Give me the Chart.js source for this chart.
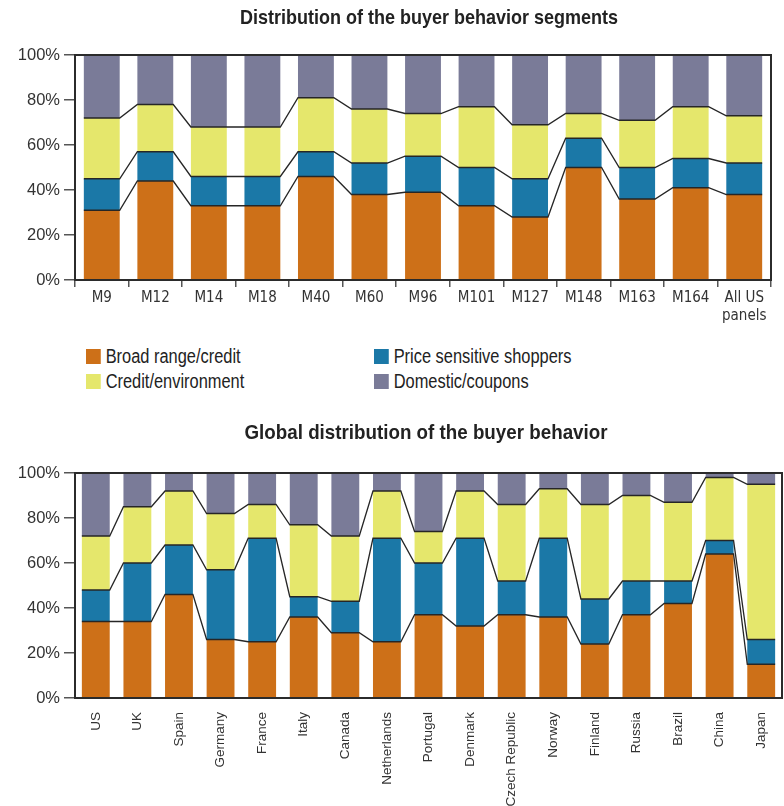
<!DOCTYPE html>
<html>
<head>
<meta charset="utf-8">
<script src="https://cdn.jsdelivr.net/npm/chart.js@4.4.0/dist/chart.umd.min.js"></script>
<style>
  body { margin: 0; background: #fff; width: 784px; height: 806px; position: relative; overflow: hidden; }
  #wrap1 { position: absolute; left: 0; top: 0; width: 784px; height: 340px; }
  #wrap2 { position: absolute; left: 0; top: 400px; width: 784px; height: 406px; }
  #legend { position: absolute; left: 0; top: 0; width: 784px; height: 0; }
  .item { position: absolute; font: 20px "Liberation Sans", sans-serif; color: #222; white-space: nowrap; line-height: 20px; transform: scaleX(0.82); transform-origin: 0 0; }
  .item span { display: inline-block; width: 18px; height: 15px; margin-right: 6px; vertical-align: -1px; }
</style>
</head>
<body>
<div id="wrap1"><canvas id="c1"></canvas></div>
<div id="legend"></div>
<div id="wrap2"><canvas id="c2"></canvas></div>
<script>
// segments
const segmentNames = ['Broad range/credit', 'Price sensitive shoppers', 'Credit/environment', 'Domestic/coupons']
const segmentColors = ['#cd7018', '#1b78a7', '#e5e76c', '#7a7b98']

// US panels
const panels = ['M9', 'M12', 'M14', 'M18', 'M40', 'M60', 'M96', 'M101', 'M127', 'M148', 'M163', 'M164', ['All US', 'panels']]
const panelBroad    = [31, 44, 33, 33, 46, 38, 39, 33, 28, 50, 36, 41, 38]
const panelPrice    = [14, 13, 13, 13, 11, 14, 16, 17, 17, 13, 14, 13, 14]
const panelCredit   = [27, 21, 22, 22, 24, 24, 19, 27, 24, 11, 21, 23, 21]
const panelDomestic = [28, 22, 32, 32, 19, 24, 26, 23, 31, 26, 29, 23, 27]

// countries
const countries = ['US', 'UK', 'Spain', 'Germany', 'France', 'Italy', 'Canada', 'Netherlands', 'Portugal',
  'Denmark', 'Czech Republic', 'Norway', 'Finland', 'Russia', 'Brazil', 'China', 'Japan']
const globalBroad    = [34, 34, 46, 26, 25, 36, 29, 25, 37, 32, 37, 36, 24, 37, 42, 64, 15]
const globalPrice    = [14, 26, 22, 31, 46,  9, 14, 46, 23, 39, 15, 35, 20, 15, 10,  6, 11]
const globalCredit   = [24, 25, 24, 25, 15, 32, 29, 21, 14, 21, 34, 22, 42, 38, 35, 28, 69]
const globalDomestic = [28, 15,  8, 18, 14, 23, 28,  8, 26,  8, 14,  7, 14, 10, 13,  2,  5]

const yTicks = [0, 20, 40, 60, 80, 100]

// box round the plot
const frame = {
    id: 'frame',
    afterDraw(chart) {
        let a = chart.chartArea, ctx = chart.ctx
        ctx.save()
        ctx.strokeStyle = '#2b2b2b'
        ctx.lineWidth = 2
        ctx.strokeRect(a.left, a.top, a.right - a.left, a.bottom - a.top)
        ctx.restore()
    }
}

// lines that join the segment tops from bar to bar
const joins = {
    id: 'joins',
    afterDatasetsDraw(chart) {
        let ctx = chart.ctx
        ctx.save()
        ctx.strokeStyle = '#262626'
        ctx.lineWidth = 1.3
        for (let d = 0; d < 3; d++) {
            let bars = chart.getDatasetMeta(d).data
            ctx.beginPath()
            bars.forEach(function(b, j) {
                let l = b.x - b.width / 2, r = b.x + b.width / 2
                if (j === 0) ctx.moveTo(l, b.y); else ctx.lineTo(l, b.y)
                ctx.lineTo(r, b.y)
            })
            ctx.stroke()
        }
        ctx.restore()
    }
}

// condensed bold heading, squeezed to the width it has in the original
const heading = {
    id: 'heading',
    afterDraw(chart, args, opts) {
        let ctx = chart.ctx
        ctx.save()
        ctx.font = 'bold 21px "Liberation Sans"'
        ctx.fillStyle = '#222'
        ctx.textAlign = 'center'
        ctx.textBaseline = 'middle'
        let sx = opts.width / ctx.measureText(opts.text).width
        ctx.translate(opts.x, opts.y)
        ctx.scale(sx, 1)
        ctx.fillText(opts.text, 0, 0)
        ctx.restore()
    }
}

function makeChart(id, labels, series, o) {
    let datasets = series.map(function(values, i) {
        return {
            label: segmentNames[i],
            data: values,
            backgroundColor: segmentColors[i],
            borderWidth: 0,
            categoryPercentage: 1,
            barPercentage: 0.67
        }
    })
    return new Chart(document.getElementById(id), {
        type: 'bar',
        data: { labels: labels, datasets: datasets },
        plugins: [joins, frame, heading],
        options: {
            responsive: true,
            maintainAspectRatio: false,
            animation: false,
            layout: { padding: o.padding },
            plugins: {
                legend: { display: false },
                tooltip: { enabled: false },
                heading: o.heading
            },
            scales: {
                x: {
                    stacked: true,
                    ticks: Object.assign({ color: '#333', autoSkip: false }, o.xticks),
                    grid: o.xgrid,
                    border: { color: '#2b2b2b', width: 2 },
                    afterFit(s) { s.height = o.xheight; s.paddingLeft = 0; s.paddingRight = 0 }
                },
                y: {
                    stacked: true,
                    min: 0,
                    max: 100,
                    afterBuildTicks(s) { s.ticks = yTicks.map(v => ({ value: v })) },
                    ticks: {
                        color: '#333',
                        padding: 4,
                        font: { family: 'Liberation Sans', size: 16.5 },
                        callback: v => v + '%'
                    },
                    grid: { drawOnChartArea: false, tickLength: 11, color: '#555', lineWidth: 1.5 },
                    border: { color: '#2b2b2b', width: 2 },
                    afterFit(s) { s.width = 75; s.paddingTop = 0; s.paddingBottom = 0 }
                }
            }
        }
    })
}

makeChart('c1', panels, [panelBroad, panelPrice, panelCredit, panelDomestic], {
    padding: { top: 55, right: 13, left: 0, bottom: 0 },
    heading: { text: 'Distribution of the buyer behavior segments', x: 429, y: 18, width: 378 },
    xticks: { maxRotation: 0, padding: 2, font: { family: '"DejaVu Sans Condensed", "Liberation Sans", sans-serif', size: 15 } },
    xgrid: { drawOnChartArea: false, tickLength: 7, color: '#555', lineWidth: 1.5, offset: true },
    xheight: 60
})

makeChart('c2', countries, [globalBroad, globalPrice, globalCredit, globalDomestic], {
    padding: { top: 73, right: 2, left: 0, bottom: 0 },
    heading: { text: 'Global distribution of the buyer behavior', x: 426, y: 33, width: 363 },
    xticks: { maxRotation: 90, minRotation: 90, padding: 14, font: { family: 'Liberation Sans', size: 13.5 } },
    xgrid: { drawOnChartArea: false, drawTicks: false },
    xheight: 108
})

// legend under the first chart
let legend = document.getElementById('legend')
let spots = [[86, 346], [374, 346], [86, 371], [374, 371]]
segmentNames.forEach(function(name, i) {
    let div = document.createElement('div')
    div.className = 'item'
    div.style.left = spots[i][0] + 'px'
    div.style.top = spots[i][1] + 'px'
    div.innerHTML = '<span style="background:' + segmentColors[i] + '"></span>' + name
    legend.appendChild(div)
})
</script>
</body>
</html>
